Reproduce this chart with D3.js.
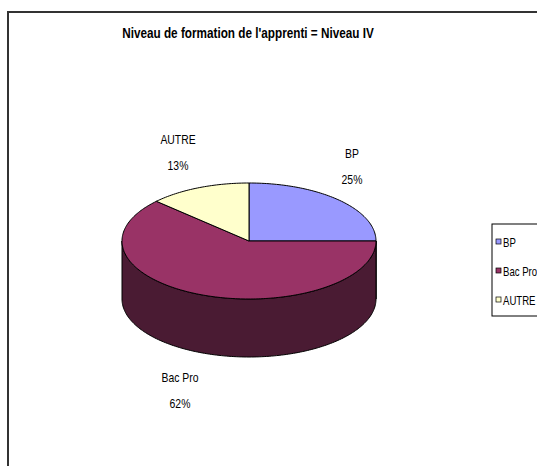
<!DOCTYPE html>
<html>
<head>
<meta charset="utf-8">
<script src="https://cdn.jsdelivr.net/npm/d3@7"></script>
<style>
  body { margin: 0; background: #fff; overflow: hidden; }
  svg { display: block; }
  text { font-family: "Liberation Sans", Arial, sans-serif; }
</style>
</head>
<body>
<div id="chart"></div>
<script>
const WIDTH = 537
const HEIGHT = 466

const title = "Niveau de formation de l'apprenti = Niveau IV"
const categories = ['BP', 'Bac Pro', 'AUTRE']
const values = [25, 62, 13]
const colors = ['#9999ff', '#993366', '#ffffcc']
const sideColors = ['#4c4c80', '#4a1b33', '#808066']

// pie geometry (ellipse seen from above)
const cx = 249, cy = 241
const rx = 127, ry = 58
const depth = 58
const NARROW = 0.8 // no Arial Narrow here, squeeze the text instead

const svg = d3.select('#chart').append('svg')
  .attr('width', WIDTH)
  .attr('height', HEIGHT)

// outer frame, runs off the right and bottom edge
svg.append('rect')
  .attr('x', 8).attr('y', 12)
  .attr('width', 600).attr('height', 500)
  .attr('fill', '#fff')
  .attr('stroke', '#333')
  .attr('stroke-width', 2)

svg.append('text')
  .attr('transform', `translate(248,38) scale(0.84,1)`)
  .attr('text-anchor', 'middle')
  .attr('font-size', 14)
  .attr('font-weight', 'bold')
  .text(title)

const pie = d3.pie().sort(null).startAngle(0).endAngle(2 * Math.PI)
const slices = pie(values)

const px = a => cx + rx * Math.sin(a)
const py = a => cy - ry * Math.cos(a)

function arcPoints(a0, a1, dy) {
  const n = Math.max(2, Math.ceil((a1 - a0) / 0.02))
  return d3.range(n + 1).map(i => {
    const a = a0 + (a1 - a0) * i / n
    return [px(a), py(a) + dy]
  })
}

const line = d3.line()

// side walls: only the front half (pi/2 .. 3pi/2) is visible
slices.forEach((s, i) => {
  const a0 = Math.max(s.startAngle, Math.PI / 2)
  const a1 = Math.min(s.endAngle, 3 * Math.PI / 2)
  if (a1 <= a0) return
  const pts = arcPoints(a0, a1, 0).concat(arcPoints(a0, a1, depth).reverse())
  svg.append('path')
    .attr('d', line(pts) + 'Z')
    .attr('fill', sideColors[i])
    .attr('stroke', '#000')
    .attr('stroke-width', 1)
})

// top faces
slices.forEach((s, i) => {
  const pts = [[cx, cy]].concat(arcPoints(s.startAngle, s.endAngle, 0))
  svg.append('path')
    .attr('d', line(pts) + 'Z')
    .attr('fill', colors[i])
    .attr('stroke', '#000')
    .attr('stroke-width', 1)
    .attr('stroke-linejoin', 'round')
})

// data labels
const labelPos = [[352, 158], [180, 382], [178, 144]]
slices.forEach((s, i) => {
  const g = svg.append('g')
    .attr('transform', `translate(${labelPos[i][0]},${labelPos[i][1]}) scale(${NARROW},1)`)
    .attr('text-anchor', 'middle')
    .attr('font-size', 13)
  g.append('text').attr('y', 0).text(categories[i])
  g.append('text').attr('y', 26).text(values[i] + '%')
})

// legend
const legend = svg.append('g').attr('transform', 'translate(492,224)')
legend.append('rect')
  .attr('width', 80).attr('height', 92)
  .attr('fill', '#fff')
  .attr('stroke', '#000')
  .attr('stroke-width', 1)
const item = legend.selectAll('g.item')
  .data(categories)
  .join('g')
  .attr('class', 'item')
  .attr('transform', (d, i) => `translate(4,${19 + i * 29})`)
item.append('rect')
  .attr('x', 0).attr('y', -4)
  .attr('width', 5).attr('height', 5)
  .attr('fill', (d, i) => colors[i])
  .attr('stroke', '#000')
  .attr('stroke-width', 0.7)
item.append('text')
  .attr('transform', `translate(7,0) scale(${NARROW},1)`)
  .attr('dy', '0.35em')
  .attr('font-size', 12)
  .text(d => d)
</script>
</body>
</html>
